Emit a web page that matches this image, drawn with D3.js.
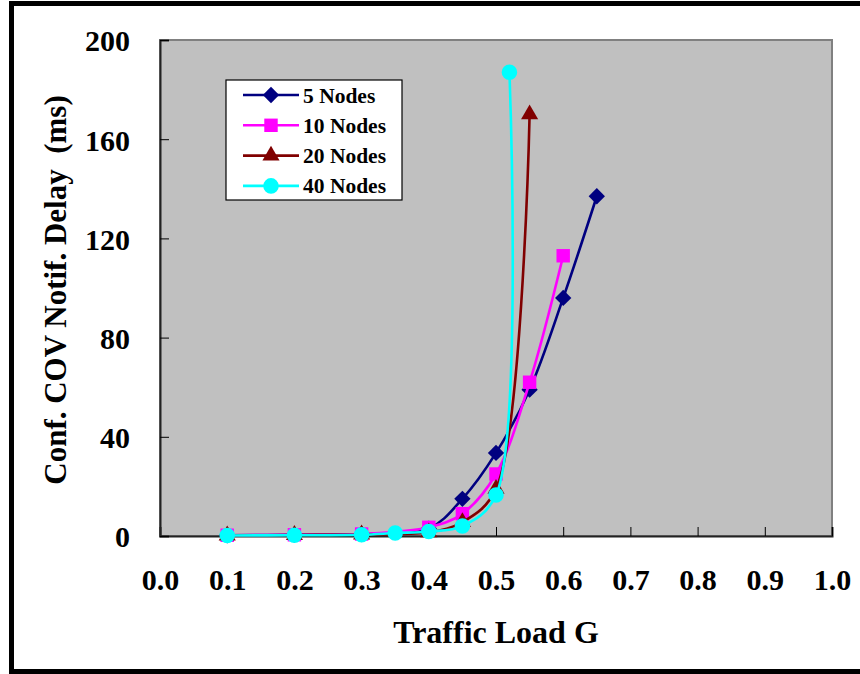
<!DOCTYPE html>
<html>
<head>
<meta charset="utf-8">
<script src="https://cdn.jsdelivr.net/npm/d3@7"></script>
<style>
  body { margin: 0; background: #fff; }
  text { font-family: "Liberation Serif", "Times New Roman", serif; font-weight: bold; fill: #000; }
</style>
</head>
<body>
<svg id="chart" width="860" height="674"></svg>
<script>
// traffic load G per series, and delay in ms
const load5  = [0.1, 0.2, 0.3, 0.4, 0.45, 0.5, 0.55, 0.6, 0.65];
const delay5 = [0.3, 0.5, 0.8, 3, 15, 33.5, 59, 96, 137];
const load10  = [0.1, 0.2, 0.3, 0.4, 0.45, 0.5, 0.55, 0.6];
const delay10 = [0.3, 0.5, 0.8, 3.5, 9, 25, 62, 113];
const load20  = [0.1, 0.2, 0.3, 0.4, 0.45, 0.5, 0.55];
const delay20 = [0.2, 0.4, 0.6, 1.5, 5.6, 19, 170];
const load40  = [0.1, 0.2, 0.3, 0.35, 0.4, 0.45, 0.5, 0.52];
const delay40 = [0.2, 0.3, 0.5, 1.2, 1.8, 4, 16.5, 187];

const seriesNames = ['5 Nodes', '10 Nodes', '20 Nodes', '40 Nodes'];
const xTicks = [0, 0.1, 0.2, 0.3, 0.4, 0.5, 0.6, 0.7, 0.8, 0.9, 1.0];
const yTicks = [0, 40, 80, 120, 160, 200];

const colors = ['#000080', '#ff00ff', '#800000', '#00ffff'];
const shapes = [d3.symbolDiamond2, d3.symbolSquare2, d3.symbolTriangle2, d3.symbolCircle];
const sizes = [170, 230, 210, 190];

const series = [
  {name: seriesNames[0], x: load5, y: delay5},
  {name: seriesNames[1], x: load10, y: delay10},
  {name: seriesNames[2], x: load20, y: delay20},
  {name: seriesNames[3], x: load40, y: delay40}
];

const svg = d3.select('#chart');
const MARGIN = {left: 160, right: 28, top: 40, bottom: 138};
const W = 860, H = 674;

// outer frame
svg.append('rect')
  .attr('x', 11.5).attr('y', 3.5)
  .attr('width', 860).attr('height', 668)
  .attr('fill', 'none').attr('stroke', '#000').attr('stroke-width', 5);

const xScale = d3.scaleLinear().domain([0, 1]).range([MARGIN.left, W - MARGIN.right]);
const yScale = d3.scaleLinear().domain([0, 200]).range([H - MARGIN.bottom, MARGIN.top]);

// plot area
svg.append('rect')
  .attr('x', xScale(0)).attr('y', yScale(200))
  .attr('width', xScale(1) - xScale(0)).attr('height', yScale(0) - yScale(200))
  .attr('fill', '#c0c0c0').attr('stroke', '#808080').attr('stroke-width', 2);

let xAxis = svg.append('g')
  .attr('transform', `translate(0,${yScale(0)})`)
  .call(d3.axisBottom(xScale).tickValues(xTicks).tickSize(-9).tickFormat(d3.format('.1f')));
xAxis.select('.domain').attr('stroke', '#222').attr('stroke-width', 2);
xAxis.selectAll('text').attr('y', 54).attr('dy', null).style('font-size', '30px');

let yAxis = svg.append('g')
  .attr('transform', `translate(${xScale(0)},0)`)
  .call(d3.axisLeft(yScale).tickValues(yTicks).tickSize(-9).tickPadding(30));
yAxis.select('.domain').attr('stroke', '#222').attr('stroke-width', 2);
yAxis.selectAll('text').attr('dy', '0.36em').style('font-size', '30px');
svg.selectAll('.tick line').attr('stroke', '#000');
svg.selectAll('.domain, .tick').attr('font-family', null).attr('font-size', null);

// titles
svg.append('text')
  .attr('x', 496).attr('y', 643)
  .attr('text-anchor', 'middle')
  .style('font-size', '32px')
  .text('Traffic Load G');

svg.append('text')
  .attr('transform', 'translate(66,290) rotate(-90)')
  .attr('text-anchor', 'middle')
  .style('font-size', '31px')
  .style('white-space', 'pre')
  .text('Conf. COV Notif. Delay  (ms)');

// lines
const line = d3.line()
  .x(d => xScale(d[0]))
  .y(d => yScale(d[1]))
  .curve(d3.curveCatmullRom.alpha(0.5));

series.forEach((s, i) => {
  let pts = s.x.map((v, j) => [v, s.y[j]]);
  let g = svg.append('g');
  g.append('path')
    .attr('d', line(pts))
    .attr('fill', 'none')
    .attr('stroke', colors[i])
    .attr('stroke-width', 2.6);
  g.selectAll('path.mark')
    .data(pts)
    .join('path')
    .attr('class', 'mark')
    .attr('transform', d => `translate(${xScale(d[0])},${yScale(d[1])})`)
    .attr('d', d3.symbol(shapes[i], sizes[i]))
    .attr('fill', colors[i]);
});

// legend
let legend = svg.append('g').attr('transform', 'translate(226,80)');
legend.append('rect')
  .attr('width', 176).attr('height', 120)
  .attr('fill', '#fff').attr('stroke', '#000').attr('stroke-width', 1.2);
seriesNames.forEach((name, i) => {
  let row = legend.append('g').attr('transform', `translate(0,${15 + i * 30.3})`);
  row.append('line')
    .attr('x1', 17).attr('x2', 73)
    .attr('stroke', colors[i]).attr('stroke-width', 2.6);
  row.append('path')
    .attr('transform', 'translate(45,0)')
    .attr('d', d3.symbol(shapes[i], sizes[i]))
    .attr('fill', colors[i]);
  row.append('text')
    .attr('x', 77).attr('y', 7.5)
    .style('font-size', '21.5px')
    .text(name);
});
</script>
</body>
</html>
